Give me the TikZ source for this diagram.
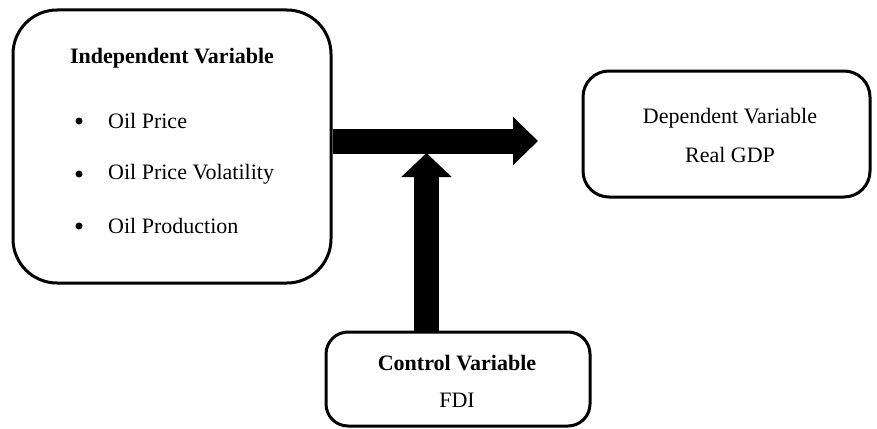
\documentclass[tikz,border=0pt]{standalone}
\usepackage{fontspec}
\setmainfont{Liberation Serif}
\usetikzlibrary{arrows.meta}
\tikzset{
  box/.style={draw, line width=3pt, rounded corners=#1, inner sep=0pt},
  txt/.style={inner sep=0pt, font=\fontsize{22}{26}\selectfont},
  btxt/.style={txt, font=\fontsize{22}{26}\selectfont\bfseries},
  fat/.style={line width=25pt, -{Triangle[length=25pt,width=47pt]}}
}
\begin{document}
\begin{tikzpicture}[x=1pt,y=-1pt]
\useasboundingbox (0,0) rectangle (877,428);
% boxes
\node[box=44pt, minimum width=318pt, minimum height=273pt] (ind) at (172,146.5) {};
\node[box=26pt, minimum width=287pt, minimum height=126pt] (dep) at (726.5,134) {};
\node[box=22pt, minimum width=264pt, minimum height=94pt] (ctl) at (458,379) {};
% texts
\node[btxt] (indt) at (172,58) {Independent Variable};
\node[txt, anchor=west] (b1) at (108,121) {Oil Price};
\node[txt, anchor=west] (b2) at (108,174) {Oil Price Volatility};
\node[txt, anchor=west] (b3) at (108,226) {Oil Production};
\foreach \n in {b1,b2,b3}{\fill (\n.west) ++(-29,0) circle (3.5pt);}
\node[txt] (dept) at (730,118) {Dependent Variable};
\node[txt] (gdp) at (730,155) {Real GDP};
\node[btxt] (ctlt) at (457,363) {Control Variable};
\node[txt] (fdi) at (457,400) {FDI};
% arrows
\coordinate (hend) at (538,141);
\coordinate (vend) at (426.5,153);
\draw[fat] (ind.east |- hend) -- (hend);
\draw[fat, -{Triangle[length=24pt,width=49pt]}] (ctl.north -| vend) -- (vend);
\end{tikzpicture}
\end{document}
